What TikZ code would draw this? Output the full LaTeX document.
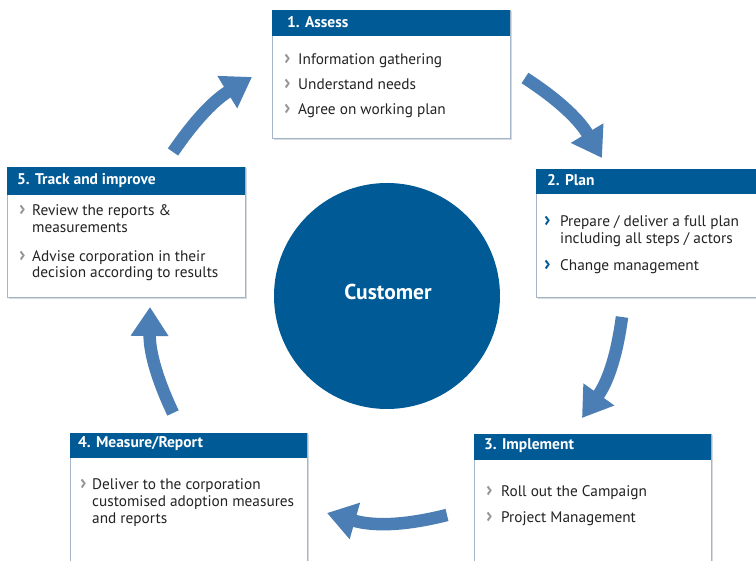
\documentclass[tikz,border=0pt]{standalone}
\usepackage{fontspec}
\setmainfont{PT Sans}
\usetikzlibrary{arrows.meta}
\definecolor{hdr}{RGB}{0,90,150}
\definecolor{arr}{RGB}{74,126,180}
\definecolor{bord}{RGB}{165,180,198}
\definecolor{shad}{RGB}{215,218,222}
\definecolor{chevg}{RGB}{150,150,150}
\definecolor{txt}{RGB}{35,35,35}
\begin{document}
\begin{tikzpicture}[x=1pt,y=1pt,
  boxshape/.style={draw=bord, line width=0.9pt, fill=white},
  shadowshape/.style={fill=shad},
  hdrbar/.style={fill=hdr},
  htext/.style={anchor=base west, inner sep=0, text=white, font=\fontsize{15.5}{17}\selectfont\bfseries},
  btext/.style={anchor=base west, inner sep=0, text=txt, font=\fontsize{15.3}{17}\selectfont},
  chev/.style={anchor=base west, inner sep=0, text=chevg, font=\fontsize{21}{17}\selectfont\bfseries},
  chevb/.style={chev, text=hdr},
  cyc/.style={draw=arr, line width=12.5pt, -{Triangle[length=29pt,width=36pt]}},
]
\useasboundingbox (0,0) rectangle (756,561);
\fill[white] (0,0) rectangle (756,561);

% ---------- circle ----------
\node[circle, fill=hdr, minimum size=226pt, inner sep=0] (cust) at (387,265) {};
\node[text=white, inner sep=0, font=\fontsize{21.5}{24}\selectfont\bfseries] (custlbl) at (388,269) {Customer};

% ---------- box 1 ----------
\fill[shadowshape] (273.5,421) rectangle (511.5,549.5);
\draw[boxshape] (272,423) rectangle (510,551);
\fill[hdrbar] (272,525) rectangle (510,551);
\node[htext] (h1) at (287,533) {1. Assess};
\node[chev] (c11) at (284,496) {›};
\node[btext] (t11) at (298,496) {Information gathering};
\node[chev] (c12) at (284,471) {›};
\node[btext] (t12) at (298,471) {Understand needs};
\node[chev] (c13) at (284,446) {›};
\node[btext] (t13) at (298,446) {Agree on working plan};

% ---------- box 2 ----------
\fill[shadowshape] (537.5,262) rectangle (760,390.5);
\draw[boxshape] (536,264) rectangle (760,392);
\fill[hdrbar] (536,367) rectangle (760,392);
\node[htext] (h2) at (547,375) {2. Plan};
\node[chevb] (c21) at (544,334) {›};
\node[btext] (t21a) at (560,334) {Prepare / deliver a full plan};
\node[btext] (t21b) at (560,317) {including all steps / actors};
\node[chevb] (c22) at (544,290) {›};
\node[btext] (t22) at (560,290) {Change management};

% ---------- box 3 ----------
\fill[shadowshape] (475.5,-10) rectangle (712.5,125.5);
\draw[boxshape] (474,-10) rectangle (711,127);
\fill[hdrbar] (474,101) rectangle (711,127);
\node[htext] (h3) at (484,111) {3. Implement};
\node[chev] (c31) at (486,64) {›};
\node[btext] (t31) at (501,64) {Roll out the Campaign};
\node[chev] (c32) at (486,38) {›};
\node[btext] (t32) at (501,38) {Project Management};

% ---------- box 4 ----------
\fill[shadowshape] (71.5,-10) rectangle (308.5,126.5);
\draw[boxshape] (70,-10) rectangle (307,128);
\fill[hdrbar] (70,103) rectangle (307,128);
\node[htext] (h4) at (78,113) {4. Measure/Report};
\node[chev] (c41) at (80,71) {›};
\node[btext] (t41a) at (92,71) {Deliver to the corporation};
\node[btext] (t41b) at (92,54) {customised adoption measures};
\node[btext] (t41c) at (92,37) {and reports};

% ---------- box 5 ----------
\fill[shadowshape] (8.5,262) rectangle (246.5,392.5);
\draw[boxshape] (7,264) rectangle (245,394);
\fill[hdrbar] (7,366) rectangle (245,394);
\node[htext] (h5) at (17,376) {5. Track and improve};
\node[chev] (c51) at (19,345) {›};
\node[btext] (t51a) at (32,345) {Review the reports \&};
\node[btext] (t51b) at (32,328) {measurements};
\node[chev] (c52) at (19,299) {›};
\node[btext] (t52a) at (32,299) {Advise corporation in their};
\node[btext] (t52b) at (32,283) {decision according to results};

% ---------- cycle arrows ----------
\coordinate (a1s) at (525,483);
\coordinate (a1e) at (602,403);
\coordinate (a2s) at (622,244);
\coordinate (a2e) at (582,143);
\coordinate (a3s) at (447,46);
\coordinate (a3e) at (327,48);
\coordinate (a4s) at (173,148);
\coordinate (a4e) at (150,254);
\coordinate (a5s) at (173,409);
\coordinate (a5e) at (252,484);
\draw[cyc] (a1s) to[bend left=13] (a1e);
\draw[cyc] (a2s) to[bend left=14] (a2e);
\draw[cyc] (a3s) to[bend left=15] (a3e);
\draw[cyc] (a4s) to[bend left=13] (a4e);
\draw[cyc] (a5s) to[bend left=12] (a5e);
\end{tikzpicture}
\end{document}
